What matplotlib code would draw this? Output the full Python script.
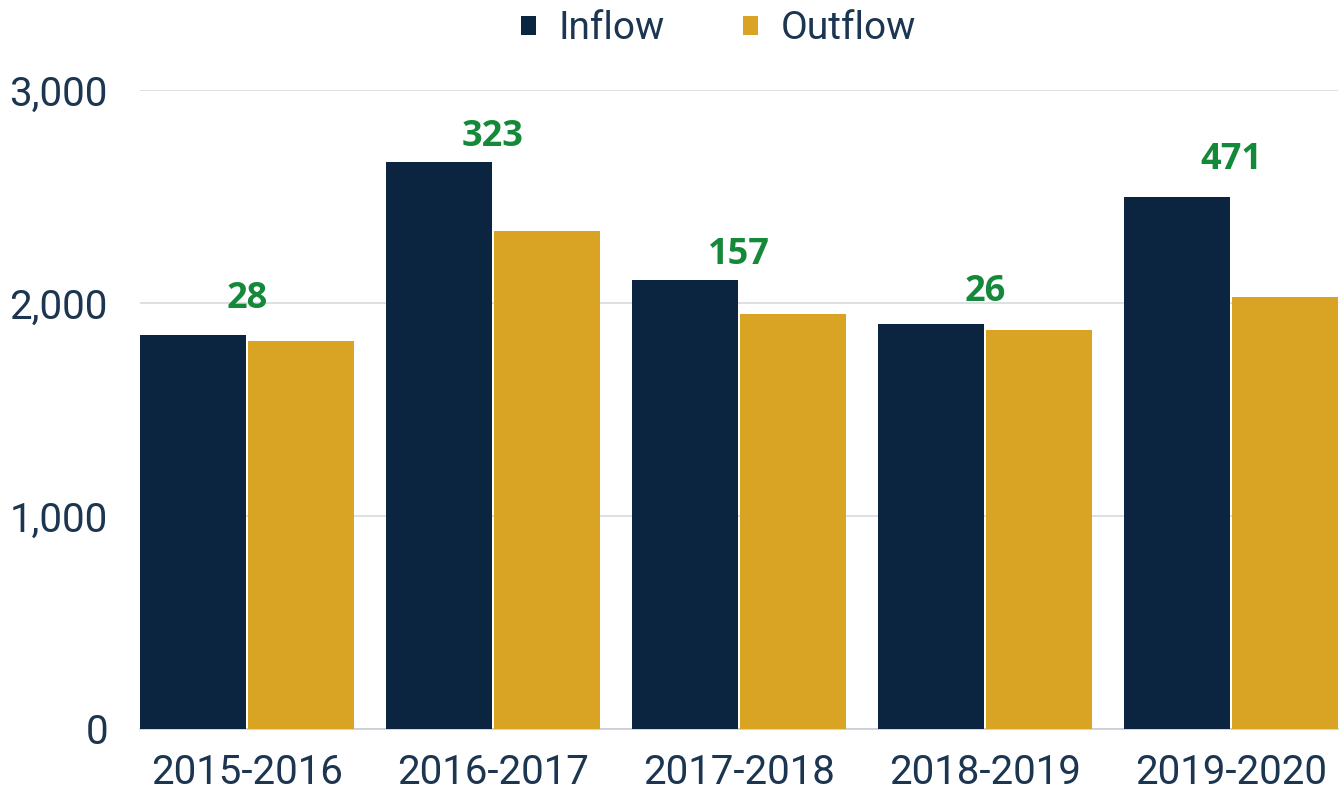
import matplotlib.pyplot as plt
import numpy as np

periods = ["2015-2016", "2016-2017", "2017-2018", "2018-2019", "2019-2020"]
inflow = [1850, 2660, 2107, 1900, 2500]
outflow = [1822, 2337, 1950, 1874, 2029]
net_labels = ["28", "323", "157", "26", "471"]

navy = "#0b2540"
gold = "#d9a423"
green = "#15893a"
text_col = "#1c3550"

plt.rcParams['font.family'] = ['Roboto', 'DejaVu Sans']

fig = plt.figure(figsize=(13.43, 7.91), dpi=100)
ax = fig.add_axes([0.1042, 0.0784, 0.892, 0.8078])

x = np.arange(len(periods))
w = 0.43
ax.bar(x - 0.22, inflow, w, color=navy, label="Inflow", zorder=3)
ax.bar(x + 0.22, outflow, w, color=gold, label="Outflow", zorder=3)

# net difference above each pair
offsets = [13, 5, 5, 10, 13]
for i, lab in enumerate(net_labels):
    ax.annotate(lab, (x[i], max(inflow[i], outflow[i])), xytext=(0, offsets[i]),
                textcoords="offset points", ha="center", va="bottom",
                color=green, fontsize=26, fontweight="bold", family=["Open Sans", "DejaVu Sans"])

ax.set_xlim(-0.435, len(periods) - 1 + 0.435)
ax.set_ylim(0, 3000)
ax.set_yticks([0, 1000, 2000, 3000])
ax.set_yticklabels(["0", "1,000", "2,000", "3,000"])
ax.set_xticks(x)
ax.set_xticklabels(periods)
ax.tick_params(axis="both", length=0, labelsize=29, colors=text_col)
ax.tick_params(axis="y", pad=23)
ax.tick_params(axis="x", pad=17)
ax.yaxis.grid(True, color="#d6dae0", linewidth=1.2, zorder=0)
for s in ["top", "right", "left"]:
    ax.spines[s].set_visible(False)
ax.spines["bottom"].set_color("#c8ccd3")
ax.spines["bottom"].set_linewidth(1.2)

ax.legend(loc="upper center", bbox_to_anchor=(0.483, 1.18), ncol=2, frameon=False,
          fontsize=28, handlelength=0.38, handleheight=0.38, handletextpad=0.6,
          columnspacing=2.0, labelcolor=text_col)

fig.savefig("out.png", dpi=100)
